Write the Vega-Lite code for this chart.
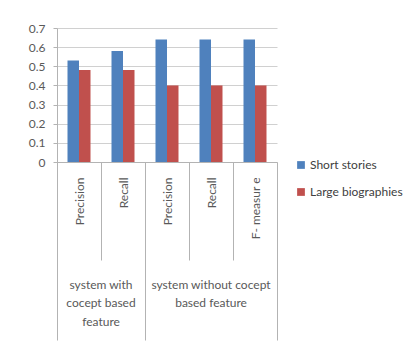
{
  "$schema": "https://vega.github.io/schema/vega-lite/v6.json",
  "width": 220,
  "height": 134,
  "autosize": {"type": "none"},
  "padding": {"left": 57, "top": 28, "right": 130, "bottom": 179},
  "config": {
    "view": {"stroke": null},
    "font": "Lato",
    "axis": {"labelFont": "Lato", "labelFontSize": 12, "labelColor": "#595959", "domainColor": "#b3b3b3", "tickColor": "#b3b3b3", "gridColor": "#d0d0d0"},
    "legend": {"labelFont": "Lato", "labelFontSize": 12, "labelColor": "#404040"}
  },
  "data": {
    "values": [
      {"category": "with|Precision", "series": "Short stories", "value": 0.53},
      {"category": "with|Precision", "series": "Large biographies", "value": 0.48},
      {"category": "with|Recall", "series": "Short stories", "value": 0.58},
      {"category": "with|Recall", "series": "Large biographies", "value": 0.48},
      {"category": "without|Precision", "series": "Short stories", "value": 0.64},
      {"category": "without|Precision", "series": "Large biographies", "value": 0.40},
      {"category": "without|Recall", "series": "Short stories", "value": 0.64},
      {"category": "without|Recall", "series": "Large biographies", "value": 0.40},
      {"category": "without|F- measur e", "series": "Short stories", "value": 0.64},
      {"category": "without|F- measur e", "series": "Large biographies", "value": 0.40}
    ]
  },
  "encoding": {
    "x": {
      "field": "category",
      "type": "nominal",
      "sort": ["with|Precision", "with|Recall", "without|Precision", "without|Recall", "without|F- measur e"],
      "scale": {"paddingInner": 0, "paddingOuter": 0},
      "axis": {
        "title": null,
        "orient": "bottom",
        "tickBand": "extent",
        "labelAngle": -90,
        "labelAlign": "right",
        "labelBaseline": "middle",
        "labelOverlap": false,
        "labelExpr": "split(datum.value, '|')[1]",
        "tickSize": {"condition": {"test": "indexof(['with|Precision','without|Precision','without|Recall'], datum.value) >= 0", "value": 98}, "value": 178},
        "labelPadding": {"condition": {"test": "indexof(['with|Precision','without|Precision','without|Recall'], datum.value) >= 0", "value": -83}, "value": -163}
      }
    },
    "y": {
      "field": "value",
      "type": "quantitative",
      "scale": {"domain": [0, 0.7], "nice": false},
      "axis": {"title": null, "values": [0, 0.1, 0.2, 0.3, 0.4, 0.5, 0.6, 0.7], "format": ".1~f", "tickSize": 4, "labelPadding": 8, "domain": true}
    }
  },
  "layer": [
    {
      "mark": {"type": "bar"},
      "encoding": {
        "xOffset": {"field": "series", "sort": ["Short stories", "Large biographies"], "scale": {"paddingOuter": 0.913, "paddingInner": 0}},
        "color": {
          "field": "series",
          "type": "nominal",
          "scale": {"domain": ["Short stories", "Large biographies"], "range": ["#4F81BD", "#C0504D"]},
          "legend": {"title": null, "orient": "none", "legendX": 238, "legendY": 131, "symbolType": "square", "symbolSize": 60, "rowPadding": 15, "labelOffset": 3}
        }
      }
    },
    {
      "mark": {"type": "bar", "opacity": 0},
      "encoding": {
        "x": {
          "field": "category",
          "type": "nominal",
          "sort": ["with|Precision", "with|Recall", "without|Precision", "without|Recall", "without|F- measur e"],
          "axis": {
            "title": null,
            "orient": "bottom",
            "domain": false,
            "ticks": false,
            "grid": false,
            "labelAngle": 0,
            "labelAlign": "center",
            "labelBaseline": "top",
            "labelOverlap": false,
            "labelPadding": 117,
            "labelLineHeight": 18.5,
            "labelFontSize": 12,
            "labelOffset": {"condition": {"test": "datum.value == 'with|Recall'", "value": -22}, "value": 0},
            "labelExpr": "datum.value == 'with|Recall' ? ['system with', 'cocept based', 'feature'] : datum.value == 'without|Recall' ? ['system without cocept', 'based feature'] : ''"
          }
        }
      }
    }
  ],
  "resolve": {"axis": {"x": "independent"}}
}
